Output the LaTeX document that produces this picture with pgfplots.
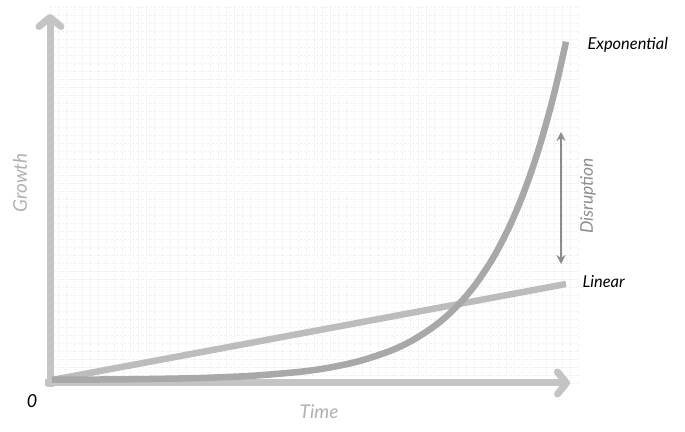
\documentclass[border=0pt]{standalone}
\usepackage{pgfplots}
\pgfplotsset{compat=1.18}
\usepackage{fontspec}
\setmainfont{Lato}
\usetikzlibrary{arrows.meta}
\definecolor{axisgray}{HTML}{C4C4C4}
\definecolor{lingray}{HTML}{BCBCBC}
\definecolor{expgray}{HTML}{A8A8A8}
\definecolor{disgray}{HTML}{8C8C8C}
\definecolor{labgray}{HTML}{B0B0B0}
\definecolor{gridgray}{HTML}{EAEAEA}
\begin{document}
\begin{tikzpicture}
\begin{axis}[
  scale only axis, width=685bp, height=432bp,
  xmin=0, xmax=685, ymin=0, ymax=432,
  hide axis, clip=false,
]
\path[use as bounding box] (axis cs:0,0) rectangle (axis cs:685,432);
\draw[gridgray, dotted, line width=0.6bp, step=8bp, shift={(axis cs:50,49)}] (0,0) grid (528bp,378bp);
% axes
\addplot[axisgray, line width=7bp, -{Straight Barb[length=9bp,width=22bp,line cap=round, line join=round]}] coordinates {(50,45) (50,418)};
\addplot[axisgray, line width=7bp, -{Straight Barb[length=9bp,width=22bp,line cap=round, line join=round]}] coordinates {(45,49) (570,49)};
% linear
\addplot[lingray, line width=6.5bp] coordinates {(52,52) (566,148)};
% exponential
\addplot[expgray, line width=6.5bp, smooth] coordinates {
(52,52.3) (100,52.5) (150,53.0) (200,54.0) (250,56.1) (300,60.2) (330,64.5)
(360,71.1) (390,81.0) (410,90.3) (430,102.7) (445,114.4) (460,129.0)
(475,146.9) (490,169.0) (500,186.6) (510,206.7) (520,229.9) (530,256.6)
(540,287.2) (550,322.5) (558,354.5) (566,390.3)};
% disruption arrow
\addplot[disgray, line width=2.5bp, {Stealth[length=9bp,width=9bp]}-{Stealth[length=9bp,width=9bp]}] coordinates {(561,300) (561,168)};
% labels
\node[anchor=west, font=\fontsize{16.5}{18}\selectfont\itshape] at (axis cs:584,387) {Exponential};
\node[anchor=west, font=\fontsize{16.5}{18}\selectfont\itshape] at (axis cs:579,150) {Linear};
\node[rotate=90, text=disgray, font=\fontsize{17.5}{19}\selectfont\itshape] at (axis cs:588,236) {Disruption};
\node[rotate=90, text=labgray, font=\fontsize{19}{21}\selectfont\itshape] at (axis cs:20,249) {Growth};
\node[text=labgray, font=\fontsize{19}{21}\selectfont\itshape] at (axis cs:319,20) {Time};
\node[font=\fontsize{18}{20}\selectfont\itshape] at (axis cs:32,31) {0};
\end{axis}
\end{tikzpicture}
\end{document}
